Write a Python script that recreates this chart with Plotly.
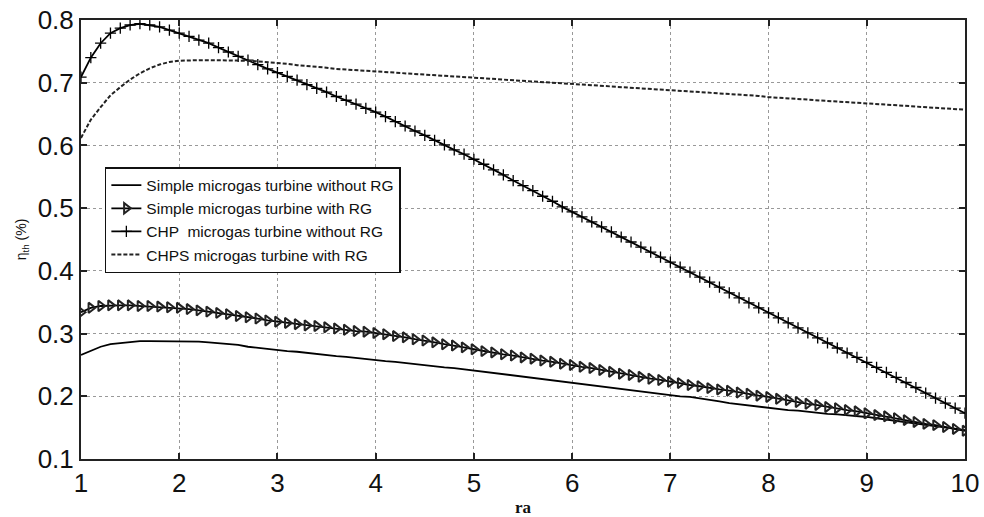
import plotly.graph_objects as go

ra = [round(1 + 0.1 * i, 1) for i in range(91)]

simple_no_rg = [
    0.266, 0.273, 0.279, 0.283, 0.285, 0.287, 0.288, 0.288, 0.288, 0.288,
    0.288, 0.287, 0.287, 0.286, 0.285, 0.284, 0.282, 0.279, 0.277, 0.275,
    0.274, 0.272, 0.271, 0.269, 0.268, 0.266, 0.264, 0.263, 0.261, 0.260,
    0.258, 0.256, 0.255, 0.253, 0.252, 0.250, 0.248, 0.246, 0.245, 0.243,
    0.242, 0.240, 0.238, 0.236, 0.234, 0.232, 0.230, 0.228, 0.226, 0.223,
    0.221, 0.219, 0.217, 0.215, 0.213, 0.211, 0.210, 0.208, 0.206, 0.204,
    0.202, 0.200, 0.199, 0.197, 0.195, 0.192, 0.189, 0.187, 0.185, 0.183,
    0.181, 0.180, 0.178, 0.177, 0.175, 0.174, 0.172, 0.171, 0.170, 0.168,
    0.167, 0.165, 0.163, 0.161, 0.159, 0.157, 0.155, 0.153, 0.151, 0.148,
    0.146,
]

simple_rg = [
    0.334, 0.341, 0.344, 0.345, 0.345, 0.345, 0.344, 0.344, 0.343, 0.342,
    0.341, 0.339, 0.337, 0.335, 0.333, 0.331, 0.328, 0.326, 0.324, 0.321,
    0.319, 0.317, 0.315, 0.313, 0.312, 0.310, 0.308, 0.306, 0.304, 0.303,
    0.301, 0.299, 0.296, 0.294, 0.291, 0.289, 0.286, 0.283, 0.281, 0.278,
    0.275, 0.272, 0.270, 0.267, 0.265, 0.262, 0.260, 0.257, 0.255, 0.252,
    0.250, 0.247, 0.245, 0.242, 0.239, 0.236, 0.234, 0.231, 0.228, 0.226,
    0.223, 0.221, 0.218, 0.216, 0.213, 0.211, 0.209, 0.206, 0.204, 0.201,
    0.199, 0.196, 0.194, 0.191, 0.188, 0.186, 0.183, 0.181, 0.178, 0.176,
    0.173, 0.170, 0.168, 0.165, 0.162, 0.159, 0.156, 0.154, 0.151, 0.148,
    0.145,
]

chp_no_rg = [
    0.709, 0.740, 0.763, 0.779, 0.787, 0.792, 0.794, 0.792, 0.789, 0.784,
    0.779, 0.774, 0.768, 0.763, 0.756, 0.749, 0.742, 0.736, 0.729, 0.722,
    0.716, 0.710, 0.704, 0.697, 0.691, 0.685, 0.678, 0.672, 0.666, 0.659,
    0.653, 0.646, 0.638, 0.631, 0.623, 0.616, 0.608, 0.601, 0.593, 0.586,
    0.578, 0.570, 0.561, 0.553, 0.544, 0.536, 0.528, 0.519, 0.511, 0.502,
    0.494, 0.486, 0.478, 0.470, 0.462, 0.454, 0.446, 0.438, 0.430, 0.422,
    0.414, 0.406, 0.398, 0.390, 0.382, 0.374, 0.365, 0.357, 0.349, 0.341,
    0.333, 0.325, 0.317, 0.309, 0.301, 0.293, 0.285, 0.277, 0.269, 0.262,
    0.254, 0.246, 0.238, 0.230, 0.222, 0.214, 0.205, 0.197, 0.189, 0.181,
    0.173,
]

chps_rg = [
    0.612, 0.641, 0.661, 0.680, 0.693, 0.705, 0.715, 0.723, 0.729, 0.733,
    0.735, 0.736, 0.736, 0.736, 0.736, 0.736, 0.735, 0.735, 0.734, 0.733,
    0.731, 0.730, 0.728, 0.727, 0.725, 0.724, 0.722, 0.721, 0.720, 0.718,
    0.717, 0.716, 0.715, 0.714, 0.713, 0.712, 0.712, 0.711, 0.710, 0.709,
    0.708, 0.707, 0.706, 0.705, 0.704, 0.703, 0.702, 0.701, 0.700, 0.699,
    0.698, 0.697, 0.696, 0.695, 0.694, 0.693, 0.692, 0.691, 0.690, 0.689,
    0.688, 0.687, 0.686, 0.685, 0.684, 0.683, 0.682, 0.681, 0.680, 0.679,
    0.677, 0.676, 0.675, 0.674, 0.673, 0.672, 0.672, 0.671, 0.670, 0.669,
    0.668, 0.667, 0.666, 0.665, 0.664, 0.663, 0.662, 0.661, 0.660, 0.659,
    0.657,
]

names = [
    "Simple microgas turbine without RG",
    "Simple microgas turbine with RG",
    "CHP  microgas turbine without RG",
    "CHPS microgas turbine with RG",
]

x_ticks = [1, 2, 3, 4, 5, 6, 7, 8, 9, 10]
y_ticks = [0.1, 0.2, 0.3, 0.4, 0.5, 0.6, 0.7, 0.8]

fig = go.Figure()
fig.add_trace(go.Scatter(x=ra, y=simple_no_rg, name=names[0], mode="lines",
                         line=dict(color="black", width=1.8)))
fig.add_trace(go.Scatter(x=ra, y=simple_rg, name=names[1], mode="lines+markers",
                         line=dict(color="black", width=1.8),
                         marker=dict(symbol="triangle-right-open", size=9, color="#222",
                                     line=dict(width=2, color="#222"))))
fig.add_trace(go.Scatter(x=ra, y=chp_no_rg, name=names[2], mode="lines+markers",
                         line=dict(color="black", width=1.8),
                         marker=dict(symbol="cross-thin", size=8, color="black",
                                     line=dict(width=1.3, color="black"))))
fig.add_trace(go.Scatter(x=ra, y=chps_rg, name=names[3], mode="lines",
                         line=dict(color="#222", width=2, dash="4px,2px")))

axis_common = dict(
    showline=True, linecolor="#222", linewidth=2, mirror="ticks",
    ticks="inside", ticklen=6, tickwidth=1.5, tickcolor="#222",
    showgrid=True, gridcolor="#999", griddash="dot", gridwidth=1,
    zeroline=False, automargin=False,
    tickfont=dict(family="Liberation Sans, Arial, sans-serif", size=26, color="#111"),
)

fig.update_xaxes(range=[1, 10], tickvals=x_ticks, ticktext=[str(v) for v in x_ticks],
                 title=dict(text="<b>ra</b>", font=dict(family="Liberation Serif, Times New Roman, serif",
                                                        size=17, color="#111"), standoff=4),
                 **axis_common)
fig.update_yaxes(range=[0.1, 0.8], tickvals=y_ticks, ticktext=[f"{v:.1f}" for v in y_ticks],
                 title=dict(text="η<sub>th</sub> (%)",
                            font=dict(family="Liberation Sans, Arial, sans-serif", size=14, color="#111"),
                            standoff=8),
                 **axis_common)

fig.update_layout(
    width=984, height=517,
    margin=dict(l=81, r=19, t=20, b=58),
    plot_bgcolor="white", paper_bgcolor="white",
    legend=dict(x=0.027, y=0.665, xanchor="left", yanchor="top",
                bgcolor="white", bordercolor="#111", borderwidth=1.5,
                font=dict(family="Liberation Sans, Arial, sans-serif", size=15.5, color="#111"),
                tracegroupgap=0, itemwidth=30),
)

# remove the page's default body margin so the figure fills the window exactly
fig.write_html("out.html", config={"displayModeBar": False},
               post_script="document.body.style.margin='0';")
